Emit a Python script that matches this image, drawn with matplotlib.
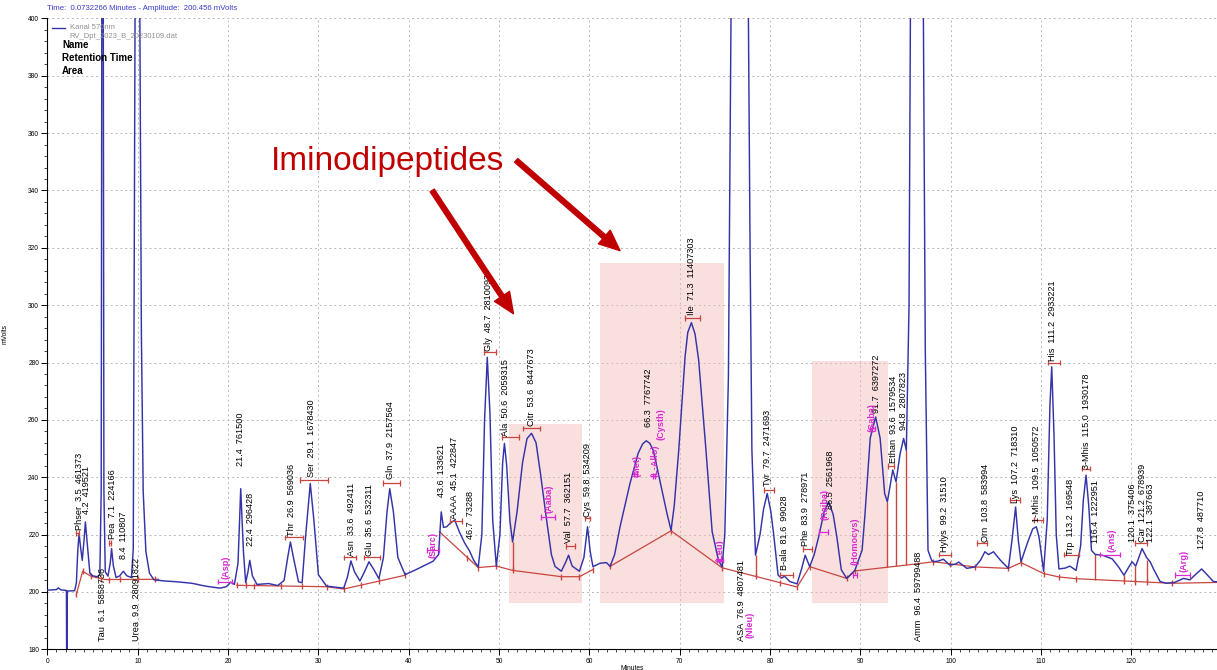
import numpy as np
import matplotlib
matplotlib.use("Agg")
import matplotlib.pyplot as plt
from matplotlib.ticker import MultipleLocator

plt.rcParams['font.family'] = ['Liberation Sans', 'DejaVu Sans']

# chromatogram trace (minutes, mV)
time_min = [0.0, 1.0, 1.2, 1.5, 2.1, 2.15, 2.2, 3.0, 3.2, 3.35, 3.5, 3.65, 3.85, 4.05, 4.2, 4.4, 4.7,
            5.0, 5.5, 5.8, 5.95, 6.1, 6.25, 6.4, 6.7, 6.95, 7.1, 7.3, 7.6, 8.0, 8.4, 8.8, 9.3, 9.5,
            9.7, 9.9, 10.2, 10.4, 10.6, 10.9, 11.3, 11.8, 13.0, 14.4, 16.0, 17.5, 19.1, 19.8, 20.3,
            20.7, 21.1, 21.4, 21.7, 21.95, 22.2, 22.4, 22.7, 23.2, 24.5, 25.5, 26.2, 26.6, 26.9,
            27.3, 27.8, 28.2, 28.6, 29.1, 29.5, 30.0, 30.9, 32.8, 33.2, 33.6, 34.0, 34.6, 35.1,
            35.6, 36.1, 36.7, 37.2, 37.6, 37.9, 38.3, 38.8, 39.6, 40.9, 42.7, 43.3, 43.6, 43.85,
            44.2, 44.6, 45.1, 45.6, 46.2, 46.7, 47.2, 47.7, 48.1, 48.4, 48.7, 49.0, 49.3, 49.7,
            50.1, 50.4, 50.6, 50.85, 51.2, 51.5, 52.0, 52.6, 53.1, 53.6, 54.1, 54.6, 55.3, 55.8,
            56.2, 56.9, 57.4, 57.7, 58.1, 58.9, 59.4, 59.8, 60.1, 60.4, 61.2, 61.9, 62.3, 62.8,
            63.4, 64.5, 65.4, 65.9, 66.3, 66.7, 67.1, 67.8, 68.6, 69.05, 69.4, 69.9, 70.6, 70.9,
            71.3, 71.7, 72.1, 72.9, 73.6, 74.3, 74.7, 75.0, 75.4, 75.8, 76.9, 77.5, 77.8, 78.0,
            78.4, 78.9, 79.3, 79.7, 80.1, 80.4, 80.9, 81.3, 81.6, 82.2, 83.0, 83.5, 83.9, 84.4,
            84.9, 85.4, 86.0, 86.5, 87.0, 87.4, 87.9, 88.5, 89.4, 90.2, 90.5, 91.1, 91.7, 92.2,
            92.7, 93.0, 93.6, 93.96, 94.4, 94.8, 95.1, 95.4, 95.7, 96.4, 96.9, 97.2, 97.5, 97.9,
            98.1, 98.7, 99.2, 99.9, 100.5, 100.9, 101.8, 102.7, 103.3, 103.8, 104.2, 104.75,
            105.5, 106.4, 106.8, 107.2, 107.5, 107.8, 108.5, 109.1, 109.5, 109.8, 110.3, 110.7,
            111.0, 111.2, 111.45, 111.7, 112.0, 112.7, 113.2, 113.9, 114.4, 114.7, 115.0, 115.3,
            115.6, 116.0, 116.4, 116.9, 117.9, 118.6, 119.2, 119.7, 120.1, 120.5, 121.2, 121.7,
            122.1, 122.5, 123.2, 123.9, 124.8, 125.8, 126.5, 127.1, 127.8, 128.4, 129.1, 129.6]
signal_mv = [200.6, 200.8, 201.4, 200.7, 200.5, 150.0, 200.3, 200.4, 203.0, 214.0, 220.4, 216.0, 211.0,
             218.0, 224.4, 217.0, 206.5, 205.6, 205.3, 206.0, 235.0, 600.0, 235.0, 207.0, 205.5, 210.0,
             215.1, 209.0, 205.0, 205.6, 207.2, 205.6, 205.0, 215.0, 400.0, 700.0, 420.0, 290.0, 235.0,
             214.0, 206.5, 204.2, 203.8, 203.5, 203.0, 202.0, 201.3, 201.8, 203.4, 202.6, 210.0, 236.0,
             214.0, 203.2, 207.0, 211.0, 205.5, 202.6, 202.9, 202.2, 204.0, 212.0, 217.4, 211.0, 203.5,
             203.2, 220.0, 237.8, 225.0, 206.0, 202.0, 201.3, 205.0, 210.8, 207.0, 203.8, 207.0, 210.5,
             208.0, 204.6, 212.0, 228.0, 236.0, 228.0, 212.0, 206.0, 207.9, 210.7, 213.0, 227.9, 222.5,
             222.7, 224.0, 225.0, 221.0, 217.0, 214.5, 211.0, 208.7, 220.0, 260.0, 281.8, 262.0, 225.0,
             209.0, 220.0, 245.0, 251.8, 244.0, 225.0, 217.4, 228.0, 245.0, 253.5, 255.3, 252.0, 241.0,
             224.3, 213.0, 208.9, 207.2, 210.5, 212.8, 209.0, 207.2, 212.0, 222.7, 214.0, 208.8, 210.0,
             210.2, 208.9, 213.0, 222.7, 237.8, 248.3, 251.6, 252.7, 251.8, 249.2, 239.0, 227.3, 221.5,
             230.0, 249.4, 282.0, 290.5, 293.9, 290.0, 281.0, 250.0, 221.0, 211.0, 208.7, 220.0, 275.0,
             450.0, 800.0, 450.0, 319.0, 249.4, 212.8, 220.0, 229.0, 234.3, 228.0, 220.4, 205.8, 204.8,
             205.5, 203.6, 202.8, 208.0, 212.8, 208.8, 213.0, 219.3, 228.0, 231.4, 227.0, 219.3, 207.7,
             204.7, 207.5, 214.5, 226.1, 253.6, 261.0, 253.6, 234.3, 231.4, 242.5, 238.4, 248.0, 253.5,
             249.4, 300.0, 500.0, 800.0, 450.0, 284.3, 214.5, 211.0, 210.5, 210.8, 211.4, 209.4, 209.6,
             210.4, 208.2, 208.7, 211.0, 214.0, 213.0, 214.0, 211.1, 208.2, 218.0, 229.6, 218.0, 210.5,
             217.0, 222.0, 222.7, 219.0, 207.2, 225.0, 265.0, 278.5, 255.0, 220.0, 208.0, 208.3, 209.0,
             207.5, 216.0, 232.0, 240.7, 230.0, 214.5, 213.1, 212.9, 212.7, 211.5, 208.7, 205.8, 208.5,
             210.5, 209.0, 215.1, 212.0, 210.5, 207.8, 203.6, 203.0, 203.3, 204.7, 204.2, 206.0, 208.0,
             206.0, 203.6, 203.5]

# integration baselines (nan separates the segments)
baseline_t = [3.2, 3.9, 4.85, 6.4, 12.3, np.nan,
              20.95, 30.9, 32.8, 39.6, np.nan,
              43.4, 47.7, 49.7, 51.5, 56.9, 58.9, 60.4, np.nan,
              62.3, 69.05, 74.7, 83.0, 84.4, 88.5, 89.4, 96.6, 98.1, 102.7, 106.4, 107.8,
              110.3, 112.0, 113.9, 124.5, 129.6]
baseline_mv = [199.2, 207.2, 205.4, 204.3, 204.4, np.nan,
               202.3, 201.8, 201.0, 205.8, np.nan,
               221.0, 208.5, 209.0, 207.5, 205.3, 205.3, 207.8, np.nan,
               208.9, 221.3, 208.4, 201.7, 208.8, 204.7, 207.3, 209.9, 210.5, 208.7, 208.2, 210.2,
               206.4, 205.2, 204.6, 203.0, 203.3]
tick_t = [3.2, 3.9, 4.85, 5.9, 6.8, 8.0, 10.0, 11.9, 20.95, 21.95, 22.9, 25.9, 28.2, 30.9, 32.8,
          34.7, 36.7, 39.6, 46.5, 47.7, 49.7, 51.5, 56.9, 58.9, 60.4, 62.3, 69.05, 74.7, 78.4,
          81.1, 83.0, 84.4, 88.5, 89.4, 98.1, 99.9, 102.7, 106.4, 107.8, 110.3, 112.0, 113.9,
          119.2, 120.4, 121.8, 124.5]
drop_t = [51.5, 78.4, 93.0, 93.96, 95.1, 116.0, 119.2, 120.4, 121.8]
drop_top = [217.4, 212.8, 231.4, 238.4, 249.4, 213.1, 205.8, 209.0, 211.0]

# identified peaks: name, retention time, area, label anchor
peak_names = ["Phser", "", "Tau", "Pea", "", "Urea", "", "", "Thr", "Ser", "Asn", "Glu", "Gln",
              "", "AAAA", "", "Gly", "Ala", "Citr", "Val", "Cys", "", "Ile", "ASA", "Tyr",
              "B-ala", "Phe", "", "", "Ethan", "", "Amm", "Hylys", "Orn", "Lys", "1-Mhis", "His",
              "Trp", "3-Mhis", "", "", "Car", "", ""]
peak_rt = [3.5, 4.2, 6.1, 7.1, 8.4, 9.9, 21.4, 22.4, 26.9, 29.1, 33.6, 35.6, 37.9, 43.6, 45.1,
           46.7, 48.7, 50.6, 53.6, 57.7, 59.8, 66.3, 71.3, 76.9, 79.7, 81.6, 83.9, 86.5, 91.7,
           93.6, 94.8, 96.4, 99.2, 103.8, 107.2, 109.5, 111.2, 113.2, 115.0, 116.4, 120.1, 121.2,
           122.1, 127.8]
peak_area = [461373, 419521, 5858736, 224166, 110807, 28091822, 761500, 296428, 569036, 1678430,
             492411, 532311, 2157564, 133621, 422847, 73288, 2810093, 2059315, 8447673, 362151,
             534209, 7767742, 11407303, 4807481, 2471693, 99028, 278971, 2561968, 6397272,
             1579534, 2807823, 59799488, 31510, 583994, 718310, 1050572, 2933221, 169548,
             1930178, 1222951, 375406, 678939, 387663, 487710]
label_t = [3.55, 4.3, 6.1, 7.2, 8.45, 9.9, 21.4, 22.5, 27.0, 29.2, 33.7, 35.7, 38.0, 43.6, 45.1,
           46.8, 48.8, 50.7, 53.6, 57.7, 59.8, 66.5, 71.3, 76.9, 79.7, 81.6, 83.9, 86.7, 91.8,
           93.65, 94.8, 96.4, 99.3, 103.9, 107.2, 109.5, 111.25, 113.3, 115.05, 116.0, 120.1,
           121.25, 122.1, 127.8]
label_mv = [221.5, 227.0, 183.0, 218.5, 211.5, 183.0, 244.0, 216.0, 219.5, 240.0, 212.5, 212.5,
            239.5, 233.0, 225.5, 218.5, 284.0, 254.5, 258.0, 217.0, 226.0, 257.5, 296.5, 183.0,
            237.0, 207.5, 216.0, 229.0, 262.5, 245.0, 256.5, 183.0, 214.0, 217.5, 231.0, 224.5,
            280.5, 213.0, 243.0, 217.0, 217.5, 217.5, 217.5, 215.0]

# expected components not found
missing_names = ["(Asp)", "(Sarc)", "(Aaba)", "(Met)", "(L-Allo)", "(Cysth)", "(Leu)", "(Nleu)",
                 "(Raiba)", "(Homocys)", "(Gaba)", "(Ans)", "(Arg)"]
missing_t = [19.8, 42.7, 55.5, 65.3, 67.3, 67.9, 74.5, 77.8, 86.1, 89.4, 91.3, 117.9, 125.8]
missing_mv = [204.5, 211.7, 227.4, 240.0, 240.0, 253.0, 210.5, 184.0, 225.0, 209.3, 255.8, 214.0, 207.0]

# name brackets: left, right, level, found
bracket_l = [3.2, 6.8, 18.9, 26.3, 28.0, 32.8, 35.0, 37.1, 42.0, 44.6, 48.3, 50.3, 52.7, 54.7,
             57.4, 59.5, 64.9, 67.0, 70.6, 74.1, 79.3, 81.1, 83.7, 85.4, 89.2, 91.1, 93.1, 98.7,
             102.9, 106.6, 109.2, 110.8, 112.6, 114.5, 116.6, 120.4, 124.9]
bracket_r = [3.5, 7.0, 20.4, 28.3, 31.1, 34.2, 36.8, 39.0, 43.3, 45.9, 49.7, 52.2, 54.5, 56.2,
             58.4, 60.1, 65.3, 67.3, 72.3, 74.8, 80.4, 82.5, 84.6, 86.4, 89.6, 91.6, 93.7, 100.1,
             104.0, 107.7, 110.2, 112.1, 114.2, 115.4, 118.8, 121.7, 126.5]
bracket_mv = [220.5, 217.0, 203.6, 219.0, 239.0, 212.0, 212.0, 238.0, 214.7, 224.7, 283.6, 254.0,
              257.0, 226.0, 216.0, 225.6, 241.0, 240.5, 295.4, 211.0, 235.6, 206.0, 215.0, 221.0,
              206.0, 257.0, 244.0, 213.0, 217.0, 232.0, 225.0, 280.0, 213.0, 243.0, 213.0, 217.0,
              206.0]
bracket_found = [1, 1, 0, 1, 1, 1, 1, 1, 0, 1, 1, 1, 1, 0, 1, 1, 0, 0, 1, 0, 1, 1, 1, 0, 0, 0,
                 1, 1, 1, 1, 1, 1, 1, 1, 0, 1, 0]

# shaded iminodipeptide windows: start, end, bottom, top
window_t0 = [51.1, 61.2, 84.6]
window_t1 = [59.2, 74.9, 93.1]
window_lo = [196.0, 196.0, 196.0]
window_hi = [258.5, 314.7, 280.5]

trace_color = '#3434a8'
base_color = '#c8463f'
magenta = '#d82ad0'
dark_red = '#c00000'

fig = plt.figure(figsize=(12.17, 6.70), dpi=100)
ax = fig.add_axes([0.039, 0.031, 0.961, 0.9415])

for t0, t1, lo, hi in zip(window_t0, window_t1, window_lo, window_hi):
    ax.add_patch(plt.Rectangle((t0, lo), t1 - t0, hi - lo, facecolor='#f5b8b8', alpha=0.45,
                               edgecolor='none', zorder=1))

# baseline knots without the segment breaks, for placing ticks and drop lines
bt = [t for t in baseline_t if not np.isnan(t)]
bv = [v for v in baseline_mv if not np.isnan(v)]

ax.plot(baseline_t, baseline_mv, color=base_color, lw=0.9, zorder=2)
ax.plot(tick_t, np.interp(tick_t, bt, bv), linestyle='none', marker='|', markersize=5,
        color=base_color, zorder=2)
ax.vlines(drop_t, np.interp(drop_t, bt, bv), drop_top, color=base_color, lw=1.0, zorder=2)

ax.plot(time_min, signal_mv, color=trace_color, lw=1.05, zorder=3)

# peak brackets
for l, r, v, f in zip(bracket_l, bracket_r, bracket_mv, bracket_found):
    c = base_color if f else magenta
    ax.plot([l, r], [v, v], color=c, lw=0.9, zorder=4)
    ax.vlines([l, r], v - 1.0, v + 1.0, color=c, lw=0.9, zorder=4)

for name, rt, area, x, y in zip(peak_names, peak_rt, peak_area, label_t, label_mv):
    txt = f"{name}  {rt:.1f}  {area}" if name else f"{rt:.1f}  {area}"
    ax.text(x, y, txt, rotation=90, ha='center', va='bottom', fontsize=6.6, color='black', zorder=5)

for name, x, y in zip(missing_names, missing_t, missing_mv):
    ax.text(x, y, name, rotation=90, ha='center', va='bottom', fontsize=6.6, fontweight='bold',
            color=magenta, zorder=5)

# annotation
ax.text(37.7, 350.0, "Iminodipeptides", fontsize=24, color=dark_red, ha='center', va='center', zorder=6)
arrow_kw = dict(facecolor=dark_red, edgecolor=dark_red, width=3.5, headwidth=13, headlength=15, shrink=0)
ax.annotate("", xy=(51.6, 297.0), xytext=(42.6, 340.0), arrowprops=arrow_kw, zorder=6)
ax.annotate("", xy=(63.4, 319.0), xytext=(51.9, 350.5), arrowprops=arrow_kw, zorder=6)

# axes styling
ax.set_xlim(0, 129.5)
ax.set_ylim(180, 400)
ax.xaxis.set_major_locator(MultipleLocator(10))
ax.xaxis.set_minor_locator(MultipleLocator(1))
ax.yaxis.set_major_locator(MultipleLocator(20))
ax.yaxis.set_minor_locator(MultipleLocator(4))
ax.tick_params(which='major', length=4, width=0.7, labelsize=4.8, pad=2)
ax.tick_params(which='minor', length=2, width=0.5)
ax.grid(True, which='major', color='#b8b8b8', linestyle=(0, (2, 3)), lw=0.7)
ax.set_axisbelow(True)
for s in ['top', 'right']:
    ax.spines[s].set_visible(False)
ax.spines['left'].set_linewidth(0.8)
ax.spines['bottom'].set_linewidth(0.8)
ax.set_xlabel("Minutes", fontsize=4.8, labelpad=0)
ax.set_ylabel("mVolts", fontsize=4.8, labelpad=14)

# legend block
ax.plot([0.004, 0.015], [0.985, 0.985], transform=ax.transAxes, color=trace_color, lw=1.0)
ax.text(0.019, 0.985, "Kanal 570nm", transform=ax.transAxes, fontsize=5.5, color='#909090', va='center')
ax.text(0.019, 0.971, "RV_Dpt_2023_B_20230109.dat", transform=ax.transAxes, fontsize=5.5,
        color='#909090', va='center')
ax.text(0.0124, 0.958, "Name", transform=ax.transAxes, fontsize=7, fontweight='bold', va='center')
ax.text(0.0124, 0.938, "Retention Time", transform=ax.transAxes, fontsize=7, fontweight='bold', va='center')
ax.text(0.0124, 0.917, "Area", transform=ax.transAxes, fontsize=7, fontweight='bold', va='center')

fig.text(0.039, 0.988, "Time:  0.0732266 Minutes - Amplitude:  200.456 mVolts", fontsize=5.6,
         color='#3a3ad0', va='center')

fig.savefig("out.png", dpi=100)
